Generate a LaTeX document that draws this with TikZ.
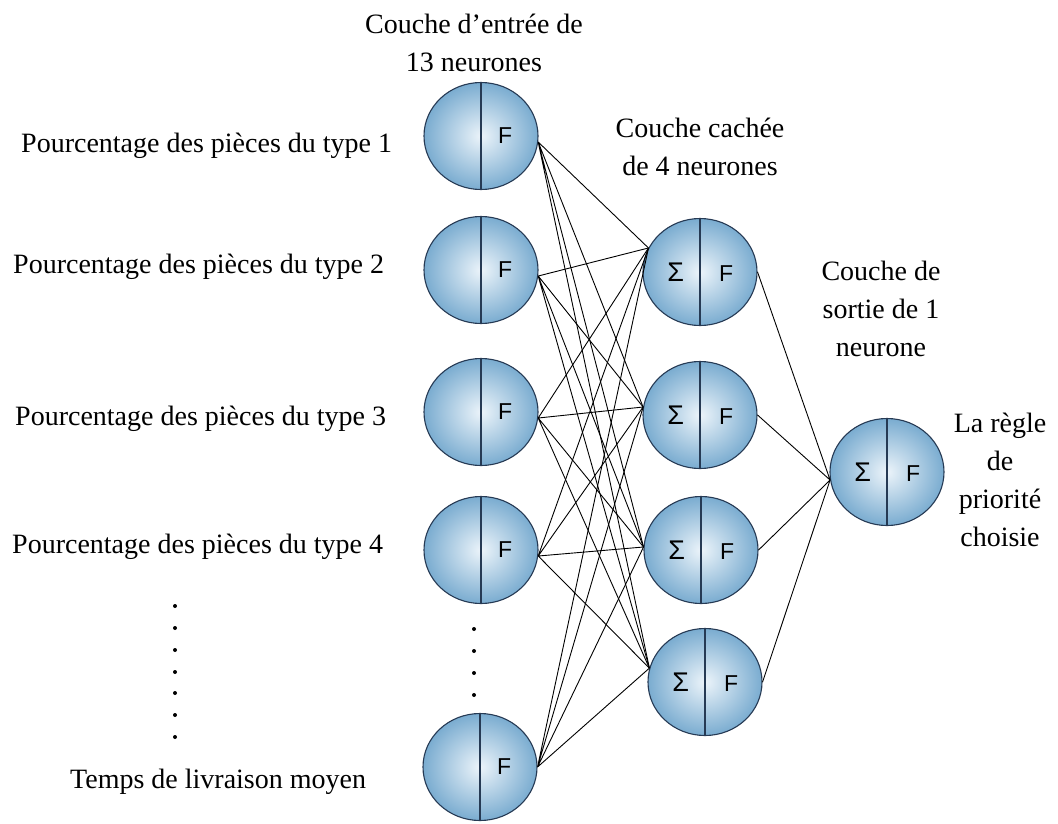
\documentclass[tikz,border=0pt]{standalone}
\usepackage{fontspec}
\setmainfont{Liberation Serif}
\newfontfamily\neufont{Liberation Sans}
\usetikzlibrary{shapes.geometric}
\definecolor{neuedge}{RGB}{38,58,84}
\definecolor{neuin}{RGB}{236,244,250}
\definecolor{neuout}{RGB}{122,172,208}
\newcommand{\sigmaF}{\makebox[0pt][r]{{\fontsize{27}{27}\selectfont Σ}\hspace{16pt}}\makebox[0pt][l]{\hspace{19pt}F}}
\newcommand{\onlyF}{\makebox[0pt][l]{\hspace{17pt}F}}
\tikzset{
  neuron/.style={ellipse, draw=neuedge, line width=1.1pt, inner sep=0pt,
    minimum width=114pt, minimum height=107pt, inner color=neuin, outer color=neuout,
    font=\neufont\fontsize{23}{23}\selectfont,
    path picture={\draw[neuedge, line width=1.1pt] (path picture bounding box.north) -- (path picture bounding box.south);}},
  txt/.style={font=\fontsize{28}{38}\selectfont, inner sep=0pt, align=center},
  link/.style={line width=0.9pt}
}
\begin{document}
\begin{tikzpicture}[x=1pt, y=-1pt]
  \useasboundingbox (0,0) rectangle (1058,823);
  % input layer
  \node[neuron] (i1) at (481,136) {\onlyF};
  \node[neuron] (i2) at (481,270) {\onlyF};
  \node[neuron] (i3) at (481,412) {\onlyF};
  \node[neuron] (i4) at (481,550) {\onlyF};
  \node[neuron] (i5) at (480,767) {\onlyF};
  % hidden and output layers
  \node[neuron] (h1) at (700,272) {\sigmaF};
  \node[neuron] (h2) at (700,415) {\sigmaF};
  \node[neuron] (h3) at (701,550) {\sigmaF};
  \node[neuron] (h4) at (705,682) {\sigmaF};
  \node[neuron] (o) at (887,472) {\sigmaF};
  % labels (base = last line)
  \node[txt, anchor=base] (tin) at (474,71) {Couche d’entrée de\\13 neurones};
  \node[txt, anchor=base] (thid) at (700,175) {Couche cachée\\de 4 neurones};
  \node[txt, anchor=base] (tout) at (881,356) {Couche de\\sortie de 1\\neurone};
  \node[txt, anchor=base] (trule) at (1000,546) {La règle\\de\\priorité\\choisie};
  \node[txt, anchor=base west] (l1) at (21,152) {Pourcentage des pièces du type 1};
  \node[txt, anchor=base west] (l2) at (13,273) {Pourcentage des pièces du type 2};
  \node[txt, anchor=base west] (l3) at (15,425) {Pourcentage des pièces du type 3};
  \node[txt, anchor=base west] (l4) at (12,553) {Pourcentage des pièces du type 4};
  \node[txt, anchor=base west] (l5) at (70,788) {Temps de livraison moyen};
  % dots
  \foreach \y in {606,628,650,672,693,715,737} \fill (175,\y) circle (2pt);
  \foreach \y in {629,651,673,695} \fill (474,\y) circle (2pt);
  % connections
  \draw[link] (i1.-6) -- (h1.155) (i1.-6) -- (h2.172) (i1.-6) -- (h3.177) (i1.-6) -- (h4.166);
  \draw[link] (i2.-6) -- (h1.155) (i2.-6) -- (h2.172) (i2.-6) -- (h3.177) (i2.-6) -- (h4.166);
  \draw[link] (i3.-6) -- (h1.155) (i3.-6) -- (h2.172) (i3.-6) -- (h3.177) (i3.-6) -- (h4.166);
  \draw[link] (i4.-6) -- (h1.155) (i4.-6) -- (h2.172) (i4.-6) -- (h3.177) (i4.-6) -- (h4.166);
  \draw[link] (i5.east) -- (h1.155) (i5.east) -- (h2.172) (i5.east) -- (h3.177) (i5.east) -- (h4.166);
  \draw[link] (h1.east) -- (o.188) (h2.east) -- (o.188) (h3.east) -- (o.188) (h4.east) -- (o.188);
\end{tikzpicture}
\end{document}
